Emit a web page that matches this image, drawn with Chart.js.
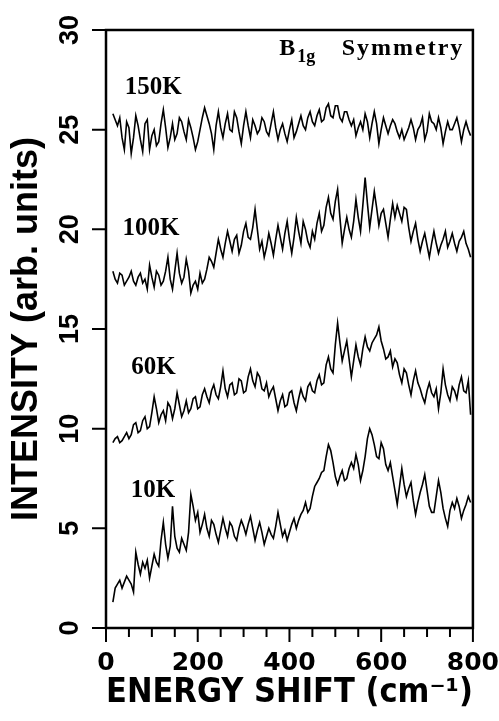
<!DOCTYPE html>
<html>
<head>
<meta charset="utf-8">
<script src="https://cdn.jsdelivr.net/npm/chart.js@4.4.1/dist/chart.umd.min.js"></script>
<style>
  html, body { margin: 0; padding: 0; background: #fff; }
</style>
</head>
<body>
<canvas id="chart" width="499" height="721"></canvas>
<script>
// Data ---

const energy = [
  15, 20, 25, 30, 35, 40, 45, 50, 55, 60, 65, 70, 75, 80, 85, 90, 95, 100, 105, 110,
  115, 120, 125, 130, 135, 140, 145, 150, 155, 160, 165, 170, 175, 180, 185, 190, 195, 200, 205, 210,
  215, 220, 225, 230, 235, 240, 245, 250, 255, 260, 265, 270, 275, 280, 285, 290, 295, 300, 305, 310,
  315, 320, 325, 330, 335, 340, 345, 350, 355, 360, 365, 370, 375, 380, 385, 390, 395, 400, 405, 410,
  415, 420, 425, 430, 435, 440, 445, 450, 455, 460, 465, 470, 475, 480, 485, 490, 495, 500, 505, 510,
  515, 520, 525, 530, 535, 540, 545, 550, 555, 560, 565, 570, 575, 580, 585, 590, 595, 600, 605, 610,
  615, 620, 625, 630, 635, 640, 645, 650, 655, 660, 665, 670, 675, 680, 685, 690, 695, 700, 705, 710,
  715, 720, 725, 730, 735, 740, 745, 750, 755, 760, 765, 770, 775, 780, 785, 790, 795,
];

const k150 = [
  25.8, 25.5, 25.2, 25.6, 24.6, 24.0, 25.4, 25.1, 23.8, 24.6,
  25.7, 25.2, 24.5, 23.9, 25.3, 25.5, 24.0, 24.7, 25.0, 24.2,
  24.4, 25.3, 26.0, 25.1, 24.1, 24.6, 25.3, 24.5, 24.8, 25.6,
  25.4, 24.9, 24.5, 25.5, 25.1, 24.6, 24.0, 24.4, 25.0, 25.6,
  26.1, 25.7, 25.3, 24.8, 24.0, 25.2, 25.9, 25.1, 24.6, 25.3,
  25.8, 25.0, 24.9, 25.9, 25.6, 24.9, 24.3, 25.2, 25.9, 25.2,
  24.6, 25.5, 25.2, 24.8, 25.0, 25.6, 25.4, 24.9, 24.7, 25.3,
  25.9, 25.1, 24.5, 25.0, 25.3, 24.8, 24.4, 25.0, 25.5, 24.6,
  24.9, 25.3, 25.7, 25.2, 25.0, 25.6, 25.9, 25.4, 25.2, 25.7,
  26.0, 25.4, 25.5, 26.1, 26.3, 25.7, 25.6, 26.2, 26.2, 25.6,
  25.4, 25.9, 25.9, 25.5, 25.2, 25.5, 24.7, 25.1, 25.4, 25.0,
  25.8, 25.4, 24.6, 25.3, 25.9, 25.3, 24.3, 25.0, 25.6, 25.2,
  24.8, 25.2, 25.5, 25.3, 24.9, 24.6, 25.0, 24.5, 24.8, 25.1,
  25.5, 25.1, 24.5, 25.0, 25.2, 25.6, 24.5, 24.9, 25.8, 25.4,
  25.3, 25.0, 25.6, 25.1, 24.3, 24.9, 25.4, 25.0, 25.0, 25.3,
  25.6, 25.1, 24.4, 25.0, 25.4, 25.0, 24.7,
];

const k100 = [
  17.9, 17.5, 17.3, 17.8, 17.7, 17.2, 17.4, 17.6, 17.9, 17.4,
  17.2, 17.6, 17.8, 17.3, 17.5, 17.0, 18.2, 17.6, 17.1, 17.9,
  17.7, 17.2, 17.4, 17.9, 18.6, 17.5, 17.0, 17.9, 18.8, 17.8,
  17.3, 17.6, 18.5, 17.9, 16.8, 17.2, 17.4, 17.0, 17.8, 17.3,
  17.5, 18.0, 18.6, 18.4, 18.1, 18.8, 19.5, 19.0, 18.6, 19.3,
  19.9, 19.4, 18.9, 19.5, 19.7, 18.8, 19.2, 19.9, 20.3, 19.6,
  19.5, 20.1, 21.0, 20.0, 19.0, 19.4, 18.6, 19.1, 19.8, 19.3,
  18.7, 19.5, 20.2, 19.6, 19.0, 19.8, 20.4, 19.5, 18.8, 19.6,
  20.6, 19.9, 19.3, 20.4, 20.0, 19.4, 19.1, 19.9, 19.5, 20.3,
  20.8, 19.9, 20.2, 21.1, 21.6, 20.8, 20.5, 21.4, 22.0, 20.6,
  19.3, 20.0, 20.6, 20.0, 19.6, 20.4, 21.5, 20.6, 19.9, 21.2,
  22.6, 21.3, 20.1, 21.0, 21.9, 21.1, 20.2, 20.8, 21.0, 20.3,
  19.6, 20.5, 21.3, 20.6, 21.2, 20.8, 20.4, 21.1, 21.0, 20.1,
  19.4, 19.9, 20.3, 19.5, 18.9, 19.4, 19.8, 19.2, 18.6, 19.3,
  19.9, 19.3, 18.8, 19.2, 19.5, 19.9, 19.1, 19.4, 19.8, 19.3,
  18.9, 19.4, 19.6, 19.9, 19.3, 19.0, 18.6,
];

const k60 = [
  9.3, 9.5, 9.6, 9.3, 9.4, 9.6, 9.8, 9.5, 9.7, 10.2,
  10.3, 9.8, 9.9, 10.4, 10.6, 10.0, 10.1, 10.8, 11.6, 11.0,
  10.3, 10.7, 10.9, 10.4, 11.3, 11.1, 10.5, 11.0, 11.8, 11.2,
  10.6, 10.9, 11.4, 10.8, 11.0, 11.5, 11.6, 11.0, 11.1, 11.7,
  12.0, 11.6, 11.3, 11.9, 12.2, 11.7, 11.5, 12.1, 12.9, 12.0,
  11.6, 12.2, 12.3, 11.7, 11.8, 12.5, 12.4, 11.8, 11.9, 12.6,
  13.0, 12.4, 12.1, 12.8, 12.6, 12.0, 11.9, 12.3, 11.6, 11.9,
  12.1, 11.5, 10.9, 11.4, 11.7, 11.1, 11.2, 11.8, 11.9, 11.3,
  10.9, 11.5, 12.0, 11.6, 11.4, 12.1, 12.3, 11.9, 11.8, 12.4,
  12.7, 12.2, 12.3, 13.2, 13.6, 13.0, 12.8, 14.2, 15.3, 14.3,
  13.4, 13.9, 14.4, 13.5, 12.6, 13.4, 14.2, 13.6, 13.2, 14.0,
  14.6, 14.1, 13.9, 14.3, 14.5, 14.7, 15.1, 14.4, 14.0, 13.5,
  13.6, 13.9, 13.1, 13.5, 13.3, 12.7, 12.3, 13.0, 12.8, 12.2,
  11.7, 12.4, 12.9, 12.3, 12.0, 11.6, 11.3, 11.9, 12.3, 11.8,
  11.6, 12.0, 11.0, 11.8, 13.0, 12.2, 11.7, 11.4, 12.1, 11.9,
  11.5, 12.2, 12.6, 11.9, 11.8, 12.4, 10.7,
];

const k10 = [
  1.3, 2.0, 2.2, 2.4, 2.0, 2.3, 2.6, 2.4, 2.2, 1.8,
  3.8, 3.2, 2.7, 3.3, 3.0, 3.4, 2.5, 3.1, 3.7, 3.3,
  3.1, 4.4, 5.3, 4.2, 3.5, 4.1, 6.1, 4.6, 4.0, 3.8,
  4.5, 4.2, 3.9, 4.8, 6.7, 6.1, 5.4, 5.8, 4.8, 5.2,
  5.7, 5.0, 4.6, 5.4, 5.2, 4.7, 4.3, 4.9, 5.5, 5.0,
  4.6, 5.3, 5.1, 4.6, 4.4, 5.0, 5.4, 5.1, 4.7, 5.2,
  5.6, 5.0, 4.4, 4.9, 5.3, 4.8, 4.2, 4.6, 5.0, 4.7,
  4.5, 5.1, 5.8, 5.2, 4.6, 4.9, 4.4, 4.8, 5.2, 5.5,
  5.0, 5.4, 5.7, 5.9, 6.3, 5.8, 6.0, 6.6, 7.1, 7.3,
  7.5, 7.8, 7.9, 8.6, 9.2, 8.9, 8.3, 7.6, 7.2, 7.6,
  7.9, 7.4, 7.5, 8.0, 8.3, 8.0, 8.7, 8.2, 7.4, 7.9,
  8.6, 9.5, 10.0, 9.7, 9.2, 8.6, 8.5, 9.3, 9.0, 8.2,
  7.9, 8.3, 7.6, 6.9, 6.2, 7.1, 8.0, 7.2, 6.6, 7.0,
  7.3, 6.4, 5.7, 6.3, 6.8, 7.2, 7.7, 6.9, 6.1, 5.8,
  5.8, 6.6, 7.4, 6.8, 6.0, 5.5, 5.1, 5.9, 6.3, 6.0,
  6.5, 6.1, 5.5, 5.9, 6.2, 6.6, 6.3,
];

const seriesNames = ["150K", "100K", "60K", "10K"];
const seriesValues = [k150, k100, k60, k10];
const yTicks = [0, 5, 10, 15, 20, 25, 30];

// Frame, ticks and in-plot text ---

const axisFrame = {
  id: "axisFrame",
  afterDatasetsDraw(chart) {
    const { ctx, chartArea: a, scales: { x, y } } = chart;
    ctx.save();
    ctx.strokeStyle = "#000";
    ctx.lineWidth = 2.5;
    ctx.strokeRect(a.left, a.top, a.right - a.left, a.bottom - a.top);
    ctx.lineWidth = 2;
    ctx.beginPath();
    for (let v = 0; v <= 800; v += 50) {
      const px = x.getPixelForValue(v);
      const len = v % 200 === 0 ? 14 : 9;
      ctx.moveTo(px, a.bottom);
      ctx.lineTo(px, a.bottom + len);
    }
    yTicks.forEach((v) => {
      const py = y.getPixelForValue(v);
      ctx.moveTo(a.left - 14, py);
      ctx.lineTo(a.left, py);
    });
    ctx.stroke();

    // y tick labels, turned to read upwards
    ctx.fillStyle = "#000";
    ctx.font = "bold 27px 'Liberation Sans', Arial, sans-serif";
    ctx.textAlign = "center";
    ctx.textBaseline = "middle";
    yTicks.forEach((v) => {
      ctx.save();
      ctx.translate(70, y.getPixelForValue(v));
      ctx.rotate(-Math.PI / 2);
      ctx.fillText(String(v), 0, 1);
      ctx.restore();
    });

    // temperature tags, anchored in data units
    const spots = [[41, 26.8], [36, 19.7], [55, 12.75], [54, 6.55]];
    ctx.textAlign = "left";
    ctx.textBaseline = "alphabetic";
    ctx.font = "bold 25px 'Liberation Serif', 'Times New Roman', serif";
    seriesNames.forEach((name, i) => {
      ctx.fillText(name, x.getPixelForValue(spots[i][0]), y.getPixelForValue(spots[i][1]));
    });

    // B1g Symmetry
    const bx = x.getPixelForValue(378);
    const by = y.getPixelForValue(28.74);
    ctx.font = "bold 24px 'Liberation Serif', 'Times New Roman', serif";
    ctx.fillText("B", bx, by);
    const bw = ctx.measureText("B").width;
    ctx.font = "bold 18px 'Liberation Serif', 'Times New Roman', serif";
    ctx.fillText("1g", bx + bw + 2, by + 7);
    ctx.font = "bold 24px 'Liberation Serif', 'Times New Roman', serif";
    ctx.letterSpacing = "2px";
    ctx.fillText("Symmetry", x.getPixelForValue(514), by);
    ctx.restore();
  },
};

// Chart ---

const datasets = seriesValues.map((vals, i) => ({
  label: seriesNames[i],
  data: vals.map((v, j) => ({ x: energy[j], y: v })),
  borderColor: "#000",
  borderWidth: 1.6,
  pointRadius: 0,
  tension: 0,
  fill: false,
}));

new Chart(document.getElementById("chart"), {
  type: "line",
  data: { datasets: datasets },
  plugins: [axisFrame],
  options: {
    responsive: false,
    animation: false,
    devicePixelRatio: 1,
    layout: { padding: { top: 30, right: 26, bottom: 0, left: 0 } },
    plugins: { legend: { display: false }, tooltip: { enabled: false } },
    scales: {
      x: {
        type: "linear",
        min: 0,
        max: 800,
        afterFit: (scale) => { scale.height = 93; },
        grid: { display: false, drawTicks: true, tickLength: 20 },
        border: { display: false },
        ticks: {
          stepSize: 200,
          maxRotation: 0,
          padding: 0,
          color: "#000",
          font: { family: "'DejaVu Sans'", weight: "bold", size: 25 },
        },
        title: {
          display: true,
          text: "ENERGY SHIFT (cm⁻¹)",
          color: "#000",
          padding: { top: 0, bottom: 8 },
          font: { family: "'DejaVu Sans'", weight: "bold", size: 33 },
        },
      },
      y: {
        min: 0,
        max: 30,
        afterFit: (scale) => { scale.width = 106; },
        grid: { display: false, drawTicks: false },
        border: { display: false },
        ticks: { display: false, stepSize: 5 },
        title: {
          display: true,
          text: "INTENSITY (arb. units)",
          color: "#000",
          padding: { top: 5, bottom: 0 },
          font: { family: "'Liberation Sans', Arial, sans-serif", weight: "bold", size: 36 },
        },
      },
    },
  },
});
</script>
</body>
</html>
